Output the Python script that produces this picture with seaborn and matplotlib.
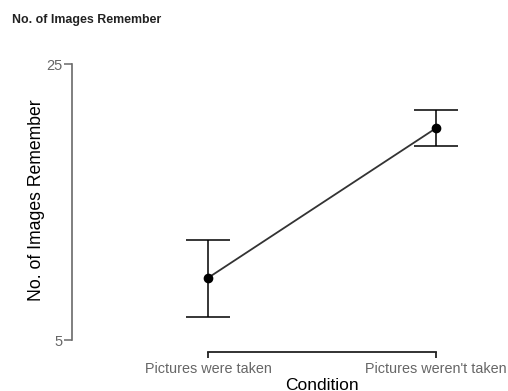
import matplotlib
matplotlib.use("Agg")
import matplotlib.pyplot as plt
import seaborn as sns
import pandas as pd

conditions = ["Pictures were taken", "Pictures weren't taken"]
means = [9.5, 20.35]
ci_lower = [6.7, 19.05]
ci_upper = [12.25, 21.65]

sns.set_theme(style="white")
plt.rcParams["font.family"] = ["Liberation Sans", "DejaVu Sans"]

df = pd.DataFrame({"Condition": conditions, "Images": means})

W, H = 508, 391
fig = plt.figure(figsize=(W / 100, H / 100), dpi=100)
left_px, right_px, top_px, bottom_px = 72, 493, 50, 352
ax_w, ax_h = right_px - left_px, bottom_px - top_px
ax = fig.add_axes([left_px / W, 1 - bottom_px / H, ax_w / W, ax_h / H])

err_lo = [m - l for m, l in zip(means, ci_lower)]
err_hi = [u - m for m, u in zip(means, ci_upper)]
ax.errorbar([0, 1], means, yerr=[err_lo, err_hi], fmt="none",
            ecolor="#333333", elinewidth=1.1, capsize=16, capthick=1.1, zorder=2)

sns.pointplot(data=df, x="Condition", y="Images", errorbar=None, ax=ax,
              color="#333333", markersize=6, linewidth=1.3, zorder=3)
for coll in ax.collections:
    coll.set_facecolor("black")
    coll.set_edgecolor("black")
for line in ax.lines:
    if line.get_marker() not in (None, "", "None"):
        line.set_markerfacecolor("black")
        line.set_markeredgecolor("black")

# horizontal scale: categories at pixel 208 and 436
px_per_unit = 436 - 208
ax.set_xlim(-(208 - left_px) / px_per_unit, 1 + (right_px - 436) / px_per_unit)
# vertical scale: 25 at pixel 64, 5 at pixel 340
y_px_per_unit = (340 - 64) / 20.0
ax.set_ylim(5 - (bottom_px - 340) / y_px_per_unit, 25 + (64 - top_px) / y_px_per_unit)

ax.set_yticks([5, 25])
ax.set_xticks([0, 1])
ax.set_xticklabels(conditions)

for side in ["top", "right"]:
    ax.spines[side].set_visible(False)
ax.spines["left"].set_bounds(5, 25)
ax.spines["bottom"].set_bounds(0, 1)
ax.spines["left"].set_color("#6a6a6a")
ax.spines["left"].set_linewidth(1.2)
ax.spines["bottom"].set_color("#222222")
ax.spines["bottom"].set_linewidth(1.3)

ax.tick_params(axis="y", which="both", left=True, direction="out", length=6,
               width=1.1, color="#6a6a6a", labelsize=10.5,
               labelcolor="#666666", pad=1)
ax.tick_params(axis="x", which="both", bottom=True, direction="out", length=4.5,
               width=1.3, color="#222222", labelsize=10.4,
               labelcolor="#666666", pad=2.5)

ax.set_xlabel("Condition", fontsize=12.5, color="black")
ax.xaxis.set_label_coords((322 - left_px) / ax_w, -(389.5 - bottom_px) / ax_h)
ax.xaxis.label.set_verticalalignment("baseline")

ax.set_ylabel("No. of Images Remember", fontsize=12.7, color="black")
ax.yaxis.set_label_coords(-(left_px - 45) / ax_w, (bottom_px - 200) / ax_h)

fig.text(12 / W, 1 - 20 / H, "No. of Images Remember", fontsize=8.9,
         fontweight="bold", color="#222222", va="center", ha="left")

fig.savefig("out.png", dpi=100)
